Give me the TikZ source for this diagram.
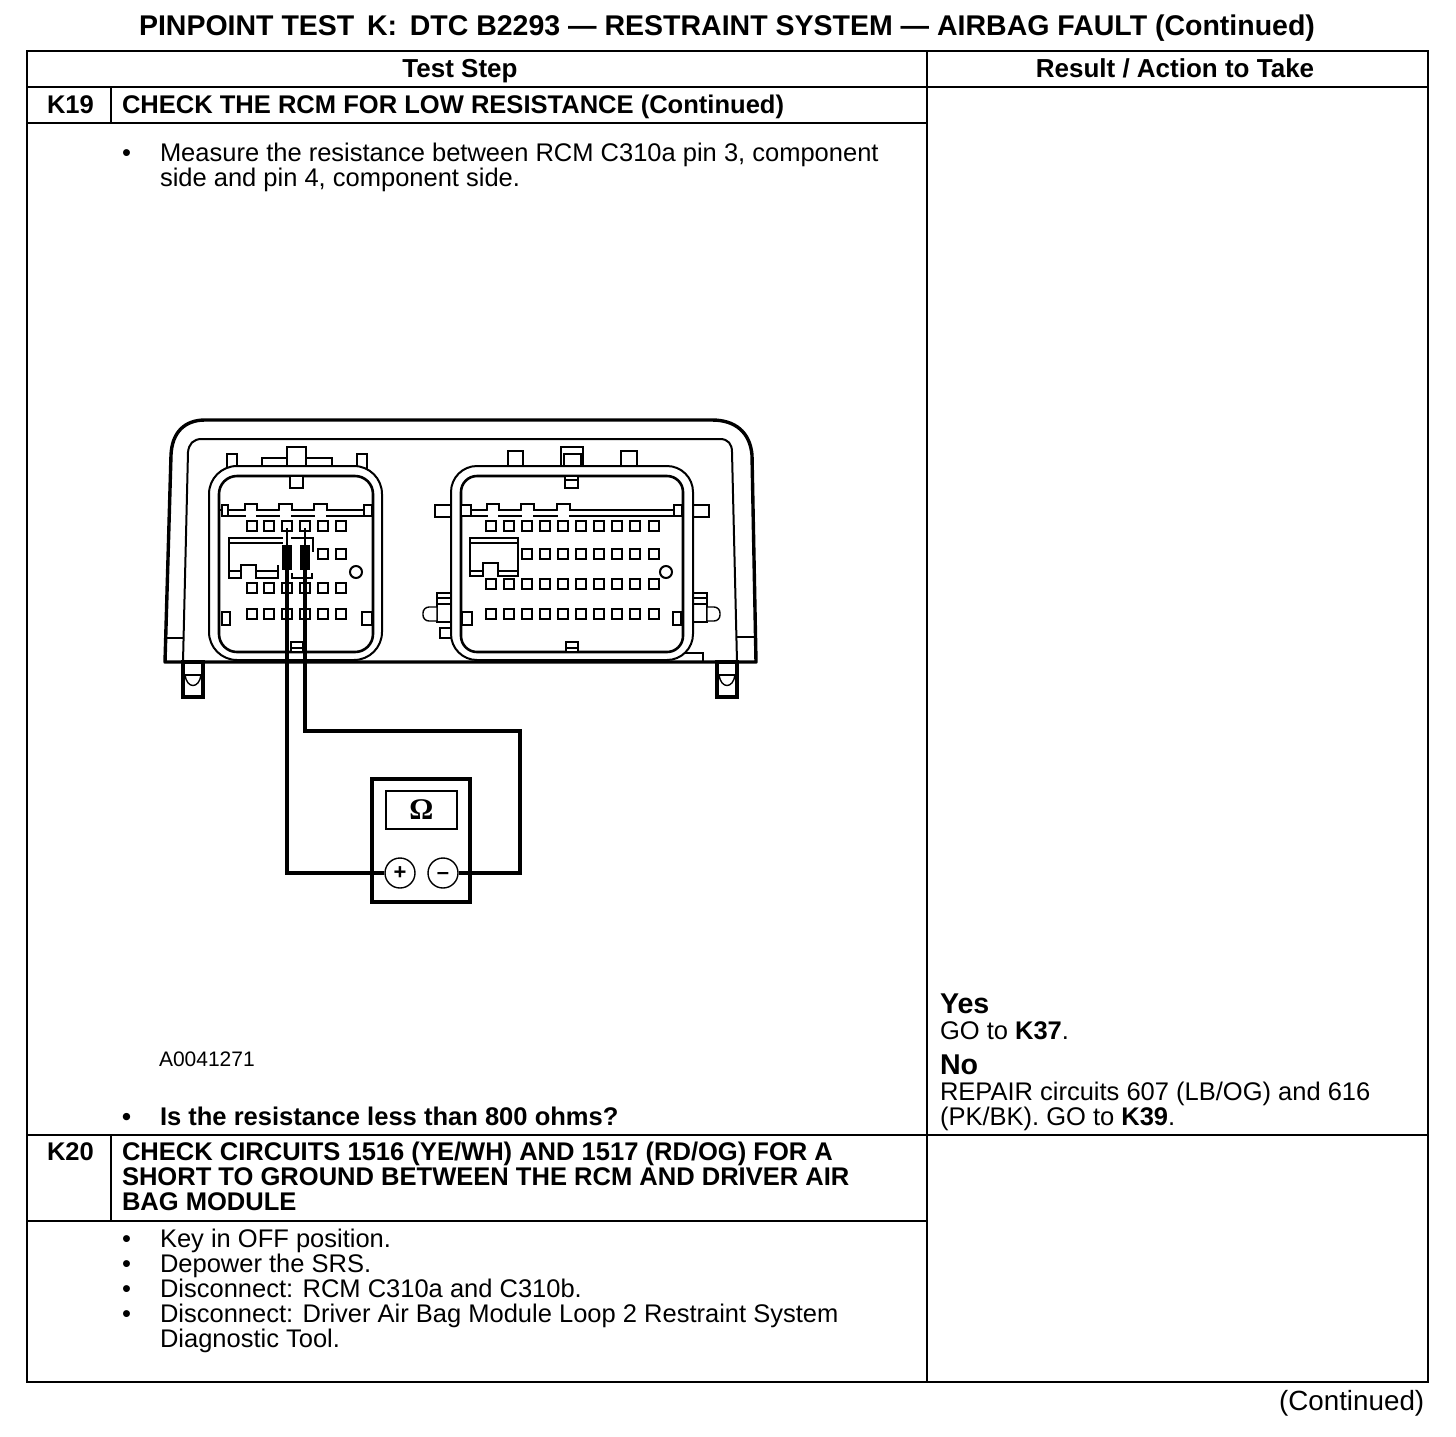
\documentclass[tikz,border=0pt]{standalone}
\usepackage{fontspec}
\setmainfont{Liberation Sans}
\newfontfamily\symbserif{Liberation Serif}
\begin{document}
\begin{tikzpicture}[x=0.5pt,y=-0.5pt,
  txt/.style={anchor=base west,inner sep=0pt,outer sep=0pt,font=\fontsize{12.75}{13}\selectfont},
  btxt/.style={anchor=base west,inner sep=0pt,outer sep=0pt,font=\fontsize{12.77}{13}\selectfont\bfseries},
  headtxt/.style={anchor=base,inner sep=0pt,outer sep=0pt,font=\fontsize{13}{13}\selectfont\bfseries},
  verdict/.style={anchor=base west,inner sep=0pt,outer sep=0pt,font=\fontsize{14.3}{14}\selectfont\bfseries},
  grid/.style={line width=1pt,black},
  thin part/.style={draw=black,line width=0.7pt,fill=white},
  med part/.style={draw=black,line width=1pt,fill=white},
  heavy/.style={draw=black,line width=1.7pt},
  wire/.style={draw=black,line width=1.6pt},
  pin/.style={draw=black,line width=1pt,fill=white,minimum size=5pt,inner sep=0pt},
  dial/.style={draw=black,line width=0.7pt,circle,fill=white,minimum size=15pt,inner sep=0pt},
]
\useasboundingbox (0,0) rectangle (1456,1436);
% table
\draw[grid] (27,51) rectangle (1428,1382);
\draw[grid] (927,51) -- (927,1382);
\draw[grid] (27,87) -- (1428,87);
\draw[grid] (27,123) -- (927,123);
\draw[grid] (111,87) -- (111,123);
\draw[grid] (27,1135) -- (1428,1135);
\draw[grid] (27,1221) -- (927,1221);
\draw[grid] (111,1135) -- (111,1221);
% heading texts
\node[headtxt,font=\fontsize{14.25}{14}\selectfont\bfseries] (title) at (727,35) {PINPOINT TEST\, K:\, DTC B2293 — RESTRAINT SYSTEM — AIRBAG FAULT (Continued)};
\node[headtxt] (hstep) at (460,77) {Test Step};
\node[headtxt] (hres) at (1175,77) {Result / Action to Take};
\node[btxt] (k19) at (47,113) {K19};
\node[btxt] (k19t) at (122,113) {CHECK THE RCM FOR LOW RESISTANCE (Continued)};
\node[txt] (b1) at (122,161) {•};
\node[txt] (m1) at (160,161) {Measure the resistance between RCM C310a pin 3, component};
\node[txt] (m2) at (160,186) {side and pin 4, component side.};
\node[txt,font=\fontsize{10.5}{10.5}\selectfont] (fig) at (159,1066) {A0041271};
\node[btxt] (b2) at (122,1125) {•};
\node[btxt] (q) at (160,1125) {Is the resistance less than 800 ohms?};
\node[verdict] (yes) at (940,1013) {Yes};
\node[txt] (y1) at (940,1039) {GO to \textbf{K37}.};
\node[verdict] (no) at (940,1074) {No};
\node[txt] (n1) at (940,1100) {REPAIR circuits 607 (LB/OG) and 616};
\node[txt] (n2) at (940,1125) {(PK/BK). GO to \textbf{K39}.};
\node[btxt] (k20) at (47,1160) {K20};
\node[btxt] (k20a) at (122,1160) {CHECK CIRCUITS 1516 (YE/WH) AND 1517 (RD/OG) FOR A};
\node[btxt] (k20b) at (122,1185) {SHORT TO GROUND BETWEEN THE RCM AND DRIVER AIR};
\node[btxt] (k20c) at (122,1210) {BAG MODULE};
\node[txt] (b3) at (122,1247) {•};
\node[txt] (l1) at (160,1247) {Key in OFF position.};
\node[txt] (b4) at (122,1272) {•};
\node[txt] (l2) at (160,1272) {Depower the SRS.};
\node[txt] (b5) at (122,1297) {•};
\node[txt] (l3) at (160,1297) {Disconnect: RCM C310a and C310b.};
\node[txt] (b6) at (122,1322) {•};
\node[txt] (l4) at (160,1322) {Disconnect: Driver Air Bag Module Loop 2 Restraint System};
\node[txt] (l5) at (160,1347) {Diagnostic Tool.};
\node[txt,font=\fontsize{13.9}{14}\selectfont] (cont) at (1279,1410) {(Continued)};
% housing: mounting feet
\draw[med part,line width=1.7pt] (183,662) rectangle (203,697);
\draw[med part,line width=1.7pt] (717,662) rectangle (737,697);
\draw[thin part] (183,675) -- (203,675);
\draw[thin part] (717,675) -- (737,675);
\draw[thin part,fill=none] (185,675) .. controls (187,689) and (199,689) .. (201,675);
\draw[thin part,fill=none] (719,675) .. controls (721,689) and (733,689) .. (735,675);
% housing body
\draw[heavy,line join=round] (165,662) -- (171,455) .. controls (172,432) and (185,420) .. (205,420) -- (712,420) .. controls (735,420) and (750,432) .. (752,455) -- (756,662) -- cycle;
\draw[thin part,fill=none,line width=1pt] (183,662) -- (188,452) .. controls (189,444) and (193,439) .. (202,439) -- (720,439) .. controls (728,439) and (732,444) .. (732,452) -- (737,662);
\draw[thin part] (165,638) -- (183,638);
\draw[thin part] (737,637) -- (755,637);
% left connector outer tabs
\draw[med part] (227,454) rectangle (237,470);
\draw[med part] (357,454) rectangle (367,470);
\draw[med part] (262,458) rectangle (332,470);
\draw[med part] (287,447) rectangle (306,470);
% right connector outer tabs
\draw[med part] (508,451) rectangle (523,470);
\draw[med part] (561,447) rectangle (583,470);
\draw[thin part] (564,454) rectangle (581,470);
\draw[med part] (621,451) rectangle (637,470);
\draw[med part] (435,505) rectangle (455,517);
\draw[med part] (690,505) rectangle (709,517);
\draw[thin part] (437,593) rectangle (455,622);
\draw[thin part] (437,598) -- (455,598) (437,604) -- (455,604);
\draw[thin part,rounded corners=3pt] (437,621) -- (423,621) -- (423,607) [sharp corners] -- (437,607) -- cycle;
\draw[thin part] (690,593) rectangle (707,622);
\draw[thin part] (690,598) -- (707,598) (690,604) -- (707,604);
\draw[thin part,rounded corners=3pt] (707,621) -- (720,621) -- (720,607) [sharp corners] -- (707,607) -- cycle;
\draw[med part] (440,628) rectangle (455,638);
\draw[thin part,fill=none] (685,653) -- (703,653) -- (703,662);
% left connector shells
\draw[thin part,line width=1pt,rounded corners=14pt] (209,466) rectangle (382,660);
\draw[draw=black,line width=1.3pt,fill=white,rounded corners=9pt] (219,476) rectangle (373,652);
% right connector shells
\draw[thin part,line width=1pt,rounded corners=13pt] (451,466) rectangle (693,660);
\draw[draw=black,line width=1.3pt,fill=white,rounded corners=8pt] (461,476) rectangle (683,652);
% notches
\draw[med part] (290,476) rectangle (303,488);
\draw[med part] (565,476) rectangle (578,488);
\draw[thin part] (565,480) -- (578,480);
\draw[med part] (291,642) rectangle (303,652);
\draw[thin part] (291,648) -- (303,648);
\draw[med part] (566,642) rectangle (578,652);
\draw[thin part] (566,648) -- (578,648);
% left rail
\draw[line width=1.2pt] (219,510) -- (373,510);
\draw[line width=0.8pt] (228,516) -- (364,516);
\foreach \a/\b in {245/257,279/292,314/327}{\draw[med part] (\a,510) -- (\a,504) -- (\b,504) -- (\b,511);\fill[white] (\a+0.8,505) rectangle (\b-0.8,517);}
\draw[thin part] (222,505) rectangle (228,516);
\draw[thin part] (364,505) rectangle (372,516);
% right rail
\draw[line width=1.2pt] (461,510) -- (683,510);
\draw[line width=0.8pt] (471,516) -- (674,516);
\foreach \a/\b in {487/499,521/534,557/570}{\draw[med part] (\a,510) -- (\a,504) -- (\b,504) -- (\b,511);\fill[white] (\a+0.8,505) rectangle (\b-0.8,517);}
\draw[thin part] (461,505) rectangle (471,516);
\draw[thin part] (674,505) rectangle (682,516);
% side tabs
\draw[thin part] (222,612) rectangle (230,625);
\draw[thin part] (362,612) rectangle (372,625);
\draw[thin part] (462,612) rectangle (472,625);
\draw[thin part] (673,612) rectangle (681,625);
% left pins
\foreach \x in {252,269,287,305,323,341}{
  \foreach \y in {526,588,614}{\node[pin] at (\x,\y) {};}
}
\foreach \x in {323,341}{\node[pin] at (\x,554) {};}
% right pins
\foreach \x in {491,509,527,545,563,581,599,617,635,654}{
  \foreach \y in {526,584,614}{\node[pin] at (\x,\y) {};}
}
\foreach \x in {527,545,563,581,599,617,635,654}{\node[pin] at (\x,554) {};}
% left key block
\draw[draw=black,line width=1.3pt,fill=white] (283,538) -- (229,538) -- (229,578) -- (241,578) -- (241,565) -- (256,565) -- (256,578) -- (278,578) -- (278,565);
\draw[thin part] (229,543) -- (283,543);
\draw[thin part] (229,571) -- (241,571) (256,571) -- (278,571);
\draw[thin part,fill=none] (291,538) -- (313,538) -- (313,552);
\draw[thin part,fill=none] (292,573) -- (292,578) -- (312,578) -- (312,573);
% right key block
\draw[draw=black,line width=1.3pt,fill=white] (470,538) rectangle (518,576);
\draw[thin part] (470,543) -- (518,543);
\draw[thin part] (470,571) -- (518,571);
\fill[white] (484,577.5) rectangle (497,564);
\draw[line width=1pt] (483,576) -- (483,563) -- (498,563) -- (498,576);
% locating circles
\draw[line width=1pt,fill=white] (356,572) circle[radius=6];
\draw[line width=1pt,fill=white] (666,572) circle[radius=6];
% meter
\node[draw=black,line width=1.7pt,minimum width=49pt,minimum height=61.5pt,inner sep=0pt,fill=white] (meter) at (421,840.5) {};
\node[draw=black,line width=0.8pt,minimum width=35.5pt,minimum height=19pt,inner sep=0pt,font=\fontsize{15}{15}\selectfont\symbserif\bfseries] (screen) at (421.5,810) {Ω};
\node[dial,font=\fontsize{11}{11}\selectfont\bfseries] (plus) at (400,873) {+};
\node[dial,font=\fontsize{11}{11}\selectfont\bfseries] (minus) at (443,873) {\raisebox{-3pt}[0pt][0pt]{–}};
% probes
\coordinate (tipa) at (287,528);
\coordinate (tipb) at (305,528);
\coordinate (bodya) at (287,545);
\coordinate (bodyb) at (305,545);
\coordinate (enda) at (287,570);
\coordinate (endb) at (305,570);
\draw[line width=1.2pt] (tipa) -- (bodya);
\draw[line width=1.2pt] (tipb) -- (bodyb);
\draw[line width=5.3pt] (bodya) -- (enda);
\draw[line width=5.3pt] (bodyb) -- (endb);
\draw[wire,line join=miter] (enda) |- (plus.west);
\coordinate (cornerb) at (305,731);
\coordinate (cornerc) at (520,731);
\draw[wire,line join=miter] (endb) -- (cornerb) -- (cornerc) |- (minus.east);
\end{tikzpicture}
\end{document}
